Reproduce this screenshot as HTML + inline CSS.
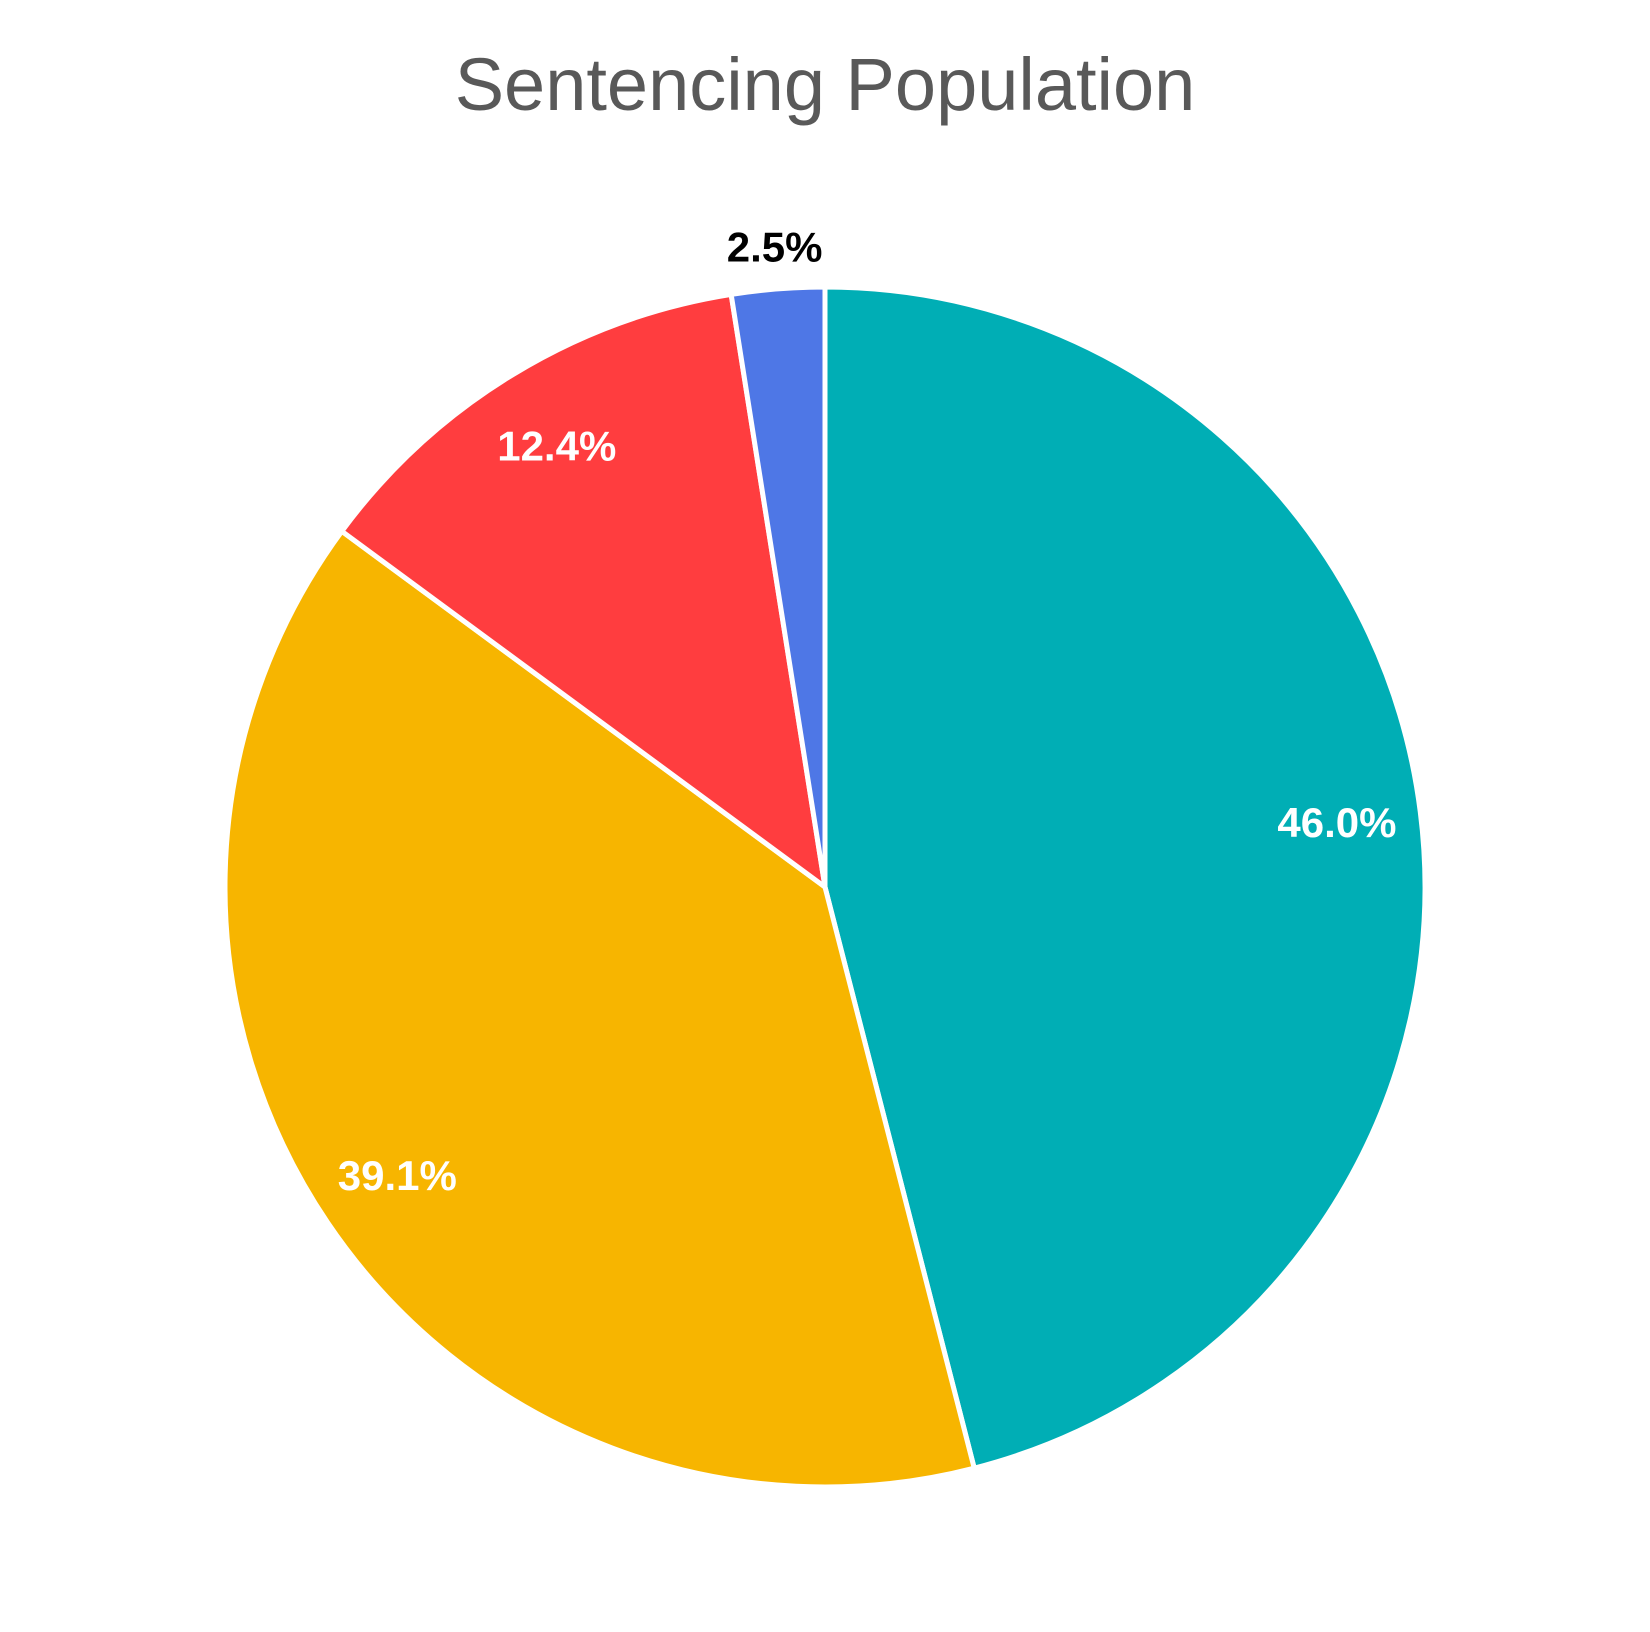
<!DOCTYPE html>
<html><head><meta charset="utf-8"><style>
html,body{margin:0;padding:0;background:#fff;}
svg{display:block;}
</style></head><body>
<svg id="chart" width="1650" height="1632" viewBox="0 0 1650 1632" xmlns="http://www.w3.org/2000/svg">
<text x="825" y="110" text-anchor="middle" font-family="Liberation Sans, sans-serif" font-size="74" fill="#595959">Sentencing Population</text>
<g id="slices"></g>
<g id="labels"></g>
</svg>
<script>
const categories = ["Group A", "Group B", "Group C", "Group D"];
const values = [46.0, 39.1, 12.4, 2.5];
const labels = ["46.0%", "39.1%", "12.4%", "2.5%"];
const colors = ["#00AEB5", "#F7B500", "#FF3D3F", "#4E77E6"];
const cx = 825, cy = 887, r = 600;
const NS = "http://www.w3.org/2000/svg";
const total = values.reduce((a,b)=>a+b,0);
function pt(frac, rad){ const a = frac*2*Math.PI; return [cx + rad*Math.sin(a), cy - rad*Math.cos(a)]; }
let acc = 0;
const gs = document.getElementById('slices'), gl = document.getElementById('labels');
values.forEach((v,i)=>{
  const f0 = acc/total, f1 = (acc+v)/total; acc += v;
  const p0 = pt(f0,r), p1 = pt(f1,r);
  const large = (f1-f0) > 0.5 ? 1 : 0;
  const path = document.createElementNS(NS,'path');
  path.setAttribute('d', `M${cx},${cy} L${p0[0]},${p0[1]} A${r},${r} 0 ${large} 1 ${p1[0]},${p1[1]} Z`);
  path.setAttribute('fill', colors[i]);
  path.setAttribute('stroke', '#fff');
  path.setAttribute('stroke-width', '5');
  path.setAttribute('stroke-linejoin', 'round');
  
  
  gs.appendChild(path);
  const mid = (f0+f1)/2;
  const outside = (f1-f0) < 0.05;
  const lp = pt(mid, outside ? r*1.07 : r*0.86);
  const t = document.createElementNS(NS,'text');
  t.setAttribute('x', lp[0]);
  t.setAttribute('y', lp[1]);
  t.setAttribute('text-anchor','middle');
  t.setAttribute('dominant-baseline','central');
  t.setAttribute('font-family','Liberation Sans, sans-serif');
  t.setAttribute('font-weight','bold');
  t.setAttribute('font-size','42');
  t.setAttribute('fill', outside ? '#000' : '#fff');
  
  
  t.textContent = labels[i];
  gl.appendChild(t);
});
</script>
</body></html>
